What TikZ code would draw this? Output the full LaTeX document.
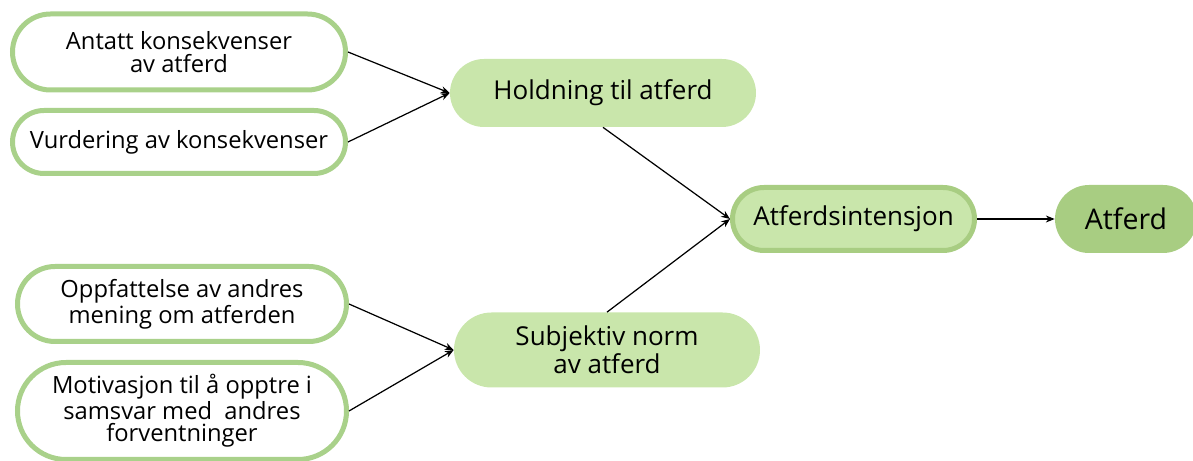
\documentclass[tikz,border=0pt]{standalone}
\usepackage{fontspec}
\setmainfont{Open Sans}
\usetikzlibrary{arrows.meta}
\definecolor{kant}{HTML}{A9D18A}
\definecolor{lysgroenn}{HTML}{C9E6AB}
\definecolor{mellomgroenn}{HTML}{A8CD82}

\begin{document}
\begin{tikzpicture}[
		faktor/.style={draw=kant,line width=0.1cm,fill=white,align=center,font=\fontsize{13.5pt}{13pt}\selectfont},
		hovedledd/.style={fill=lysgroenn,align=center,font=\fontsize{14.8pt}{13.5pt}\selectfont},
		pil/.style={line width=0.7pt,-{Stealth[length=5pt,width=4pt]}}
	]

					\useasboundingbox (0,0) rectangle (23.86,-9.22);

					\node[faktor,minimum width=6.66cm,minimum height=1.52cm,rounded corners=0.76cm] (antatt) at (3.58,-1.04) {Antatt konsekvenser\\av atferd};
					\node[faktor,minimum width=6.66cm,minimum height=1.26cm,rounded corners=0.63cm] (vurdering) at (3.58,-2.84) {Vurdering av konsekvenser};
					\node[faktor,minimum width=6.58cm,minimum height=1.5cm,rounded corners=0.75cm] (oppfattelse) at (3.64,-6.08) {Oppfattelse av andres\\mening om atferden};
					\node[faktor,minimum width=6.58cm,minimum height=1.94cm,rounded corners=0.97cm] (motivasjon) at (3.64,-8.22) {Motivasjon til å opptre i\\samsvar med\ \ andres\\forventninger};

					\node[hovedledd,minimum width=6.12cm,minimum height=1.36cm,rounded corners=0.68cm] (holdning) at (12.06,-1.86) {Holdning til atferd};
					\node[hovedledd,minimum width=6.12cm,minimum height=1.5cm,rounded corners=0.75cm] (norm) at (12.14,-7.0) {Subjektiv norm\\av atferd};

					\node[hovedledd,draw=mellomgroenn,line width=0.1cm,minimum width=4.84cm,minimum height=1.26cm,rounded corners=0.63cm] (intensjon) at (17.07,-4.38) {Atferdsintensjon};
					\node[fill=mellomgroenn,minimum width=2.84cm,minimum height=1.36cm,rounded corners=0.68cm,font=\fontsize{16.2pt}{18pt}\selectfont] (atferd) at (22.52,-4.38) {Atferd};

					\draw[pil] (antatt.east) -- (holdning.west);
					\draw[pil] (vurdering.east) -- (holdning.west);
					\draw[pil] (oppfattelse.east) -- (norm.west);
					\draw[pil] (motivasjon.east) -- (norm.west);

					\draw[pil] (holdning.south) -- (intensjon.west);
					\draw[pil] (norm.north) -- (intensjon.west);

					\draw[pil] (intensjon.east) -- (atferd.west);
				\end{tikzpicture}
\end{document}
